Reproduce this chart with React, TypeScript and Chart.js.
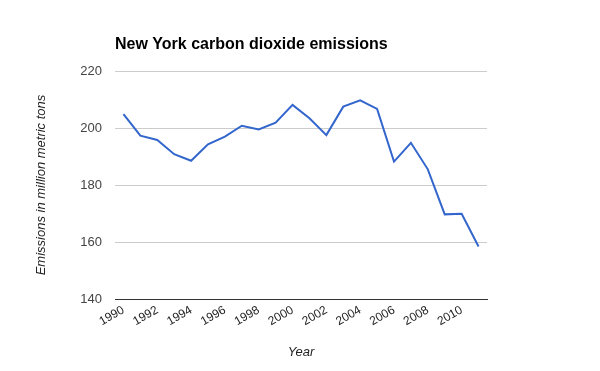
import React, { useEffect, useRef } from "react";
import { Chart, registerables } from "chart.js";

Chart.register(...registerables);

const years: string[] = [
  "1990", "1991", "1992", "1993", "1994", "1995", "1996", "1997", "1998", "1999", "2000",
  "2001", "2002", "2003", "2004", "2005", "2006", "2007", "2008", "2009", "2010", "2011",
];
const emissions: number[] = [
  204.9, 197.3, 195.8, 190.8, 188.5, 194.3, 197.0, 200.8, 199.5, 201.9, 208.1,
  203.4, 197.5, 207.5, 209.7, 206.7, 188.2, 194.8, 185.5, 169.7, 169.9, 158.4,
];
const yTicks: number[] = [140, 160, 180, 200, 220];

const FONT = 'Arial, "Liberation Sans", sans-serif';

export default function App() {
  const ref = useRef<HTMLCanvasElement | null>(null);

  useEffect(() => {
    if (!ref.current) return;
    const chart = new Chart(ref.current, {
      type: "line",
      data: {
        labels: years,
        datasets: [
          {
            data: emissions,
            borderColor: "#3366cc",
            backgroundColor: "#3366cc",
            borderWidth: 2,
            pointRadius: 0,
            tension: 0,
            fill: false,
          },
        ],
      },
      options: {
        responsive: false,
        animation: false,
        layout: { padding: { left: 0, right: 113, top: 0, bottom: 0 } },
        plugins: {
          legend: { display: false },
          tooltip: { enabled: false },
          title: {
            display: true,
            text: "New York carbon dioxide emissions",
            align: "start",
            fullSize: false,
            color: "#000",
            font: { family: FONT, size: 16, weight: "bold", lineHeight: 1.2 },
            padding: { top: 35, bottom: 16.8 },
          },
        },
        scales: {
          x: {
            type: "category",
            offset: true,
            grid: { display: false, drawTicks: false },
            border: { display: true, color: "#333", width: 1 },
            ticks: {
              autoSkip: false,
              maxRotation: 30,
              minRotation: 30,
              padding: 4,
              color: "#222",
              font: { family: FONT, size: 12 },
              callback: (_v: any, i: number) => (i % 2 === 0 ? years[i] : ""),
            },
            title: {
              display: true,
              text: "Year",
              color: "#222",
              font: { family: FONT, size: 13, style: "italic", lineHeight: 1.2 },
              padding: { top: 0, bottom: 11.2 },
            },
            afterFit: (s: any) => {
              s.height = 72;
            },
          },
          y: {
            min: 140,
            max: 220,
            afterBuildTicks: (s: any) => {
              s.ticks = yTicks.map((v) => ({ value: v }));
            },
            grid: { color: "#cccccc", drawTicks: false, lineWidth: 1 },
            border: { display: false },
            ticks: {
              padding: 13,
              color: "#444",
              font: { family: FONT, size: 13 },
            },
            title: {
              display: true,
              text: "Emissions in million metric tons",
              color: "#222",
              font: { family: FONT, size: 13, style: "italic", lineHeight: 1.2 },
              padding: { top: 34, bottom: 0 },
            },
            afterFit: (s: any) => {
              s.width = 115;
            },
          },
        },
      },
    });
    return () => chart.destroy();
  }, []);

  return (
    <div style={{ position: "fixed", left: 0, top: 0, width: 600, height: 371, background: "#fff" }}>
      <canvas ref={ref} width={600} height={371} style={{ display: "block" }} />
    </div>
  );
}
